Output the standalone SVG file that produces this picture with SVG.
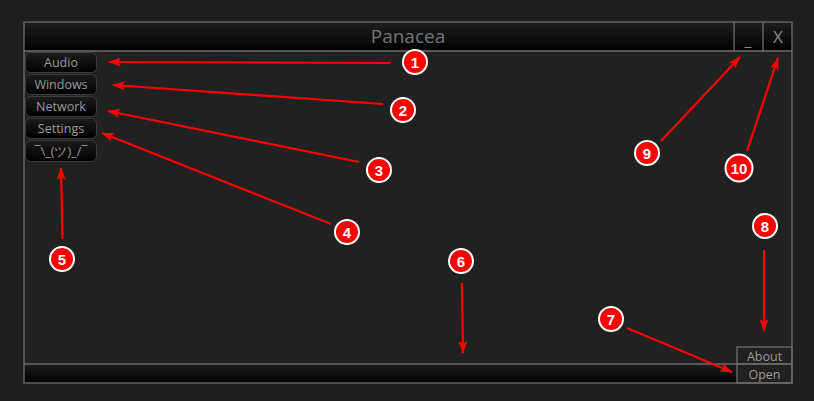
<svg xmlns="http://www.w3.org/2000/svg" width="814" height="401" viewBox="0 0 814 401">
<defs>
<linearGradient id="bar" x1="0" y1="0" x2="0" y2="1">
<stop offset="0" stop-color="#1e1e1e"/>
<stop offset="1" stop-color="#000000"/>
</linearGradient>
<linearGradient id="btn" x1="0" y1="0" x2="0" y2="1">
<stop offset="0" stop-color="#1c1c1c"/>
<stop offset="1" stop-color="#000000"/>
</linearGradient>
<marker id="ah" viewBox="0 0 13 9" refX="12" refY="4.5" markerWidth="13" markerHeight="9" markerUnits="userSpaceOnUse" orient="auto">
<path d="M0,0 L13,4.5 L0,9 L3,4.5 Z" fill="#ff0000"/>
</marker>
</defs>
<style>
.frame{fill:none;stroke:#6e6e6e;stroke-width:1.3}
.btnr{fill:url(#btn);stroke:#3c3c3c;stroke-width:1}
.bt{font-family:"Open Sans","Noto Sans",sans-serif;font-size:12.5px;fill:#9a9a9a;text-anchor:middle}
.badge circle{fill:#ff0000;stroke:#ffffff;stroke-width:2}
.badge text{font-family:"Liberation Sans",Arial,sans-serif;font-weight:bold;font-size:15px;fill:#ffffff;text-anchor:middle}
.arr{stroke:#ff0000;stroke-width:2.2;fill:none;marker-end:url(#ah)}
</style>
<rect x="0" y="0" width="814" height="401" fill="#1e1e1e"/>
<g id="window">
<rect x="24" y="22" width="768" height="361" fill="#212121"/>
<rect x="24" y="22" width="768" height="29" fill="url(#bar)"/>
<rect x="24" y="364" width="713" height="19" fill="url(#bar)"/>
<rect x="24" y="22" width="768" height="361" class="frame"/>
<line x1="24" y1="51" x2="792" y2="51" class="frame"/>
<line x1="24" y1="364" x2="737" y2="364" class="frame"/>
<text x="408" y="43" font-family="Open Sans,Noto Sans,sans-serif" font-size="19" fill="#757575" text-anchor="middle">Panacea</text>
</g>
<g id="minimize">
<line x1="734" y1="22" x2="734" y2="51" class="frame"/>
<text x="748" y="46" font-family="Open Sans,Noto Sans,sans-serif" font-size="16" fill="#8a8a8a" text-anchor="middle">_</text>
</g>
<g id="close">
<line x1="763" y1="22" x2="763" y2="51" class="frame"/>
<text x="778" y="43" font-family="Open Sans,Noto Sans,sans-serif" font-size="17" fill="#8a8a8a" text-anchor="middle">X</text>
</g>
<g id="about">
<rect x="737" y="347" width="55" height="17" fill="url(#bar)" class="frame"/>
<text x="764.5" y="361" class="bt">About</text>
</g>
<g id="open">
<rect x="737" y="364" width="55" height="19" fill="url(#bar)" class="frame"/>
<text x="764.5" y="379" class="bt">Open</text>
</g>
<g id="btn-audio"><rect x="25.5" y="52.5" width="71" height="20" rx="5" class="btnr"/><text x="61" y="67" class="bt">Audio</text></g>
<g id="btn-windows"><rect x="25.5" y="74.5" width="71" height="20" rx="5" class="btnr"/><text x="61" y="89" class="bt">Windows</text></g>
<g id="btn-network"><rect x="25.5" y="96.5" width="71" height="20" rx="5" class="btnr"/><text x="61" y="111" class="bt">Network</text></g>
<g id="btn-settings"><rect x="25.5" y="118.5" width="71" height="20" rx="5" class="btnr"/><text x="61" y="133" class="bt">Settings</text></g>
<g id="btn-shrug"><rect x="25.5" y="140.5" width="71" height="21" rx="5" class="btnr"/><text x="61" y="156" class="bt" fill="#b0b0b0">¯\_(ツ)_/¯</text></g>
<g id="connectors">
<line x1="390" y1="63" x2="109" y2="62" class="arr"/>
<line x1="383" y1="104" x2="113" y2="85" class="arr"/>
<line x1="359" y1="162" x2="108" y2="111" class="arr"/>
<line x1="331" y1="224" x2="102" y2="133" class="arr"/>
<line x1="62.5" y1="239" x2="61" y2="168" class="arr"/>
<line x1="462" y1="283" x2="463" y2="353" class="arr"/>
<line x1="627" y1="328" x2="732" y2="372" class="arr"/>
<line x1="764" y1="250" x2="764" y2="331" class="arr"/>
<line x1="661" y1="141" x2="740" y2="57" class="arr"/>
<line x1="747" y1="151" x2="778" y2="58" class="arr"/>
</g>
<g id="b1" class="badge"><circle cx="415" cy="62" r="12"/><text x="415" y="67.5">1</text></g>
<g id="b2" class="badge"><circle cx="403" cy="110" r="12"/><text x="403" y="115.5">2</text></g>
<g id="b3" class="badge"><circle cx="379" cy="170" r="12"/><text x="379" y="175.5">3</text></g>
<g id="b4" class="badge"><circle cx="347" cy="232" r="12"/><text x="347" y="237.5">4</text></g>
<g id="b5" class="badge"><circle cx="62" cy="259" r="12"/><text x="62" y="264.5">5</text></g>
<g id="b6" class="badge"><circle cx="461" cy="261" r="12"/><text x="461" y="266.5">6</text></g>
<g id="b7" class="badge"><circle cx="611" cy="319" r="12"/><text x="611" y="324.5">7</text></g>
<g id="b8" class="badge"><circle cx="765" cy="226" r="12"/><text x="765" y="231.5">8</text></g>
<g id="b9" class="badge"><circle cx="647" cy="153" r="12"/><text x="647" y="158.5">9</text></g>
<g id="b10" class="badge"><circle cx="739" cy="168" r="13.5"/><text x="739" y="173.5">10</text></g>
</svg>
